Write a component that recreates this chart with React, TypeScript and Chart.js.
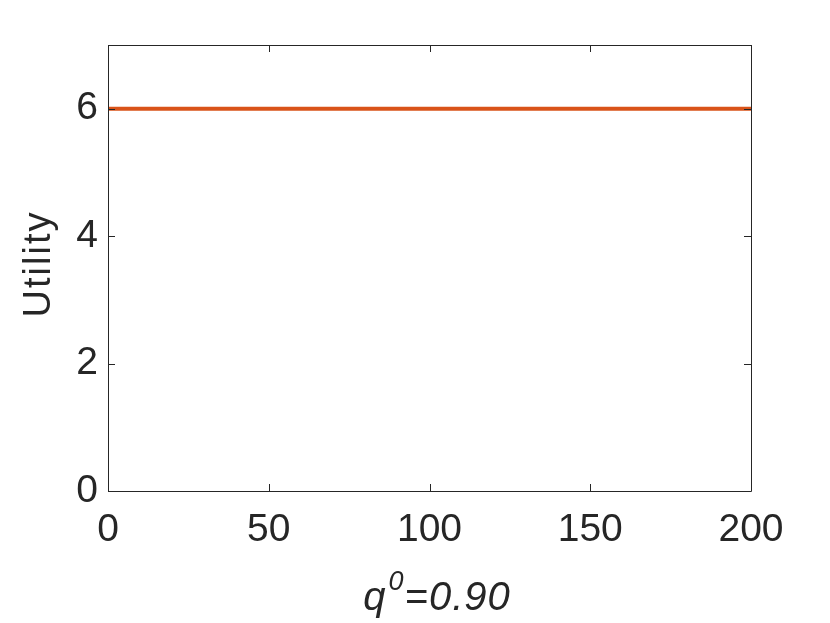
import React, { useEffect, useRef } from "react";
import { Chart, registerables } from "chart.js";

Chart.register(...registerables);

const xValues = [0, 50, 100, 150, 200];
const utility = [6, 6, 6, 6, 6];
const xTicks = [0, 50, 100, 150, 200];
const yTicks = [0, 2, 4, 6];
const yLabel = "Utility";
const xLabelBase = "q";
const xLabelSup = "0";
const xLabelRest = "=0.90";

const FONT = '"Liberation Sans", Arial, Helvetica, sans-serif';
const AXIS = "#262626";

const framePlugin = {
  id: "frame",
  afterDatasetsDraw(chart: any) {
    const { ctx, chartArea } = chart;
    const { left, right, top, bottom } = chartArea;
    const xs = chart.scales.x;
    const ys = chart.scales.y;
    ctx.save();
    ctx.strokeStyle = AXIS;
    ctx.lineWidth = 1;
    ctx.beginPath();
    ctx.rect(left + 0.5, top + 0.5, right - left, bottom - top);
    const tl = 7;
    for (const v of xTicks) {
      const px = Math.round(xs.getPixelForValue(v)) + 0.5;
      ctx.moveTo(px, bottom);
      ctx.lineTo(px, bottom - tl);
      ctx.moveTo(px, top);
      ctx.lineTo(px, top + tl);
    }
    for (const v of yTicks) {
      const py = Math.round(ys.getPixelForValue(v)) + 0.5;
      ctx.moveTo(left, py);
      ctx.lineTo(left + tl, py);
      ctx.moveTo(right, py);
      ctx.lineTo(right - tl, py);
    }
    ctx.stroke();

    // y label
    ctx.fillStyle = AXIS;
    ctx.save();
    ctx.translate(50, 264);
    ctx.rotate(-Math.PI / 2);
    ctx.font = `38px ${FONT}`;
    (ctx as any).letterSpacing = "2px";
    ctx.textAlign = "center";
    ctx.textBaseline = "alphabetic";
    ctx.fillText(yLabel, 0, 0);
    ctx.restore();

    // x label
    (ctx as any).letterSpacing = "1px";
    ctx.font = `italic 40px ${FONT}`;
    const wq = ctx.measureText(xLabelBase).width;
    ctx.font = `italic 27px ${FONT}`;
    const ws = ctx.measureText(xLabelSup).width;
    ctx.font = `italic 40px ${FONT}`;
    const wr = ctx.measureText(xLabelRest).width;
    const total = wq + ws + 2 + wr;
    let x0 = 437 - total / 2;
    const base = 610;
    ctx.textAlign = "left";
    ctx.textBaseline = "alphabetic";
    ctx.fillText(xLabelBase, x0, base);
    ctx.font = `italic 27px ${FONT}`;
    ctx.fillText(xLabelSup, x0 + wq + 2, base - 20);
    ctx.font = `italic 40px ${FONT}`;
    ctx.fillText(xLabelRest, x0 + wq + ws + 2, base);
    ctx.restore();
  },
};

export default function App() {
  const ref = useRef<HTMLCanvasElement>(null);
  useEffect(() => {
    document.body.style.margin = "0";
    const chart = new Chart(ref.current!, {
      type: "line",
      data: {
        labels: xValues,
        datasets: [
          {
            data: xValues.map((x, i) => ({ x, y: utility[i] })),
            borderColor: "#D95319",
            borderWidth: 4,
            pointRadius: 0,
            fill: false,
          },
        ],
      },
      options: {
        animation: false,
        responsive: false,
        events: [],
        layout: { padding: { top: 45, right: 79, left: 0, bottom: 0 } },
        plugins: { legend: { display: false }, tooltip: { enabled: false } },
        scales: {
          x: {
            type: "linear",
            min: 0,
            max: 200,
            border: { display: false },
            grid: { display: false, drawTicks: false },
            afterBuildTicks: (s: any) => {
              s.ticks = xTicks.map((v) => ({ value: v }));
            },
            afterFit: (s: any) => {
              s.height = 132;
            },
            ticks: {
              color: AXIS,
              font: { family: FONT, size: 39 },
              padding: 16,
              maxRotation: 0,
            },
          },
          y: {
            type: "linear",
            min: 0,
            max: 7,
            border: { display: false },
            grid: { display: false, drawTicks: false },
            afterBuildTicks: (s: any) => {
              s.ticks = yTicks.map((v) => ({ value: v }));
            },
            afterFit: (s: any) => {
              s.width = 108;
            },
            ticks: {
              color: AXIS,
              font: { family: FONT, size: 39 },
              padding: 10,
            },
          },
        },
      },
      plugins: [framePlugin],
    });
    return () => chart.destroy();
  }, []);
  return (
    <div style={{ width: 830, height: 623, background: "#fff" }}>
      <canvas ref={ref} width={830} height={623} style={{ display: "block" }} />
    </div>
  );
}
